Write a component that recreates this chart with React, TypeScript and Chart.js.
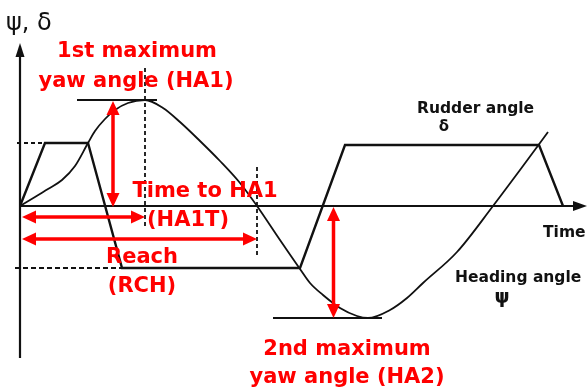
import React, { useEffect, useRef } from "react";
import { Chart, registerables } from "chart.js";

Chart.register(...registerables);

// Rudder angle δ (time units, angle units)
const rudderTime = [0, 25, 68, 102, 280, 325, 519, 543];
const rudderAngle = [0, 63, 63, -62, -62, 61, 61, 0];

// Heading angle ψ
const headingTime = [0, 15, 28, 42, 55, 68, 75, 85, 95, 108, 125, 143, 160, 180, 200, 220, 237, 260, 280, 290, 303, 320, 337, 348, 370, 387, 403, 437, 473, 500, 528];
const headingAngle = [0, 9, 17, 26, 40, 63, 75, 87, 96, 103, 106, 98, 84, 65, 45, 23, 0, -34, -63, -77, -89, -102, -110, -112, -104, -92, -77, -46, 0, 36, 74];

// Key values
const ha1Value = 106;
const ha2Value = -112;
const ha1Time = 125;
const reachTime = 237;
const rudderMax = 63;
const rudderMin = -62;

const redLabels = ["1st maximum", "yaw angle (HA1)", "Time to HA1", "(HA1T)", "Reach", "(RCH)", "2nd maximum", "yaw angle (HA2)"];
const blackLabels = ["Rudder angle", "δ", "Time", "Heading angle", "ψ"];
const axisLabel = "ψ, δ";

const seg = (x1: number, y1: number, x2: number, y2: number) => [
  { x: x1, y: y1 },
  { x: x2, y: y2 },
];

export default function App() {
  const ref = useRef<HTMLCanvasElement | null>(null);

  useEffect(() => {
    document.body.style.margin = "0";
    const canvas = ref.current;
    if (!canvas) return;

    const blackLine = (data: any[], width = 2, dash: number[] = []) => ({
      data,
      borderColor: "#111",
      borderWidth: width,
      borderDash: dash,
      pointRadius: 0,
      fill: false,
      tension: 0,
    });

    const drawPlugin = {
      id: "diagramExtras",
      afterDatasetsDraw(chart: any) {
        const ctx = chart.ctx as CanvasRenderingContext2D;
        const xs = chart.scales.x;
        const ys = chart.scales.y;
        const px = (v: number) => xs.getPixelForValue(v);
        const py = (v: number) => ys.getPixelForValue(v);

        const head = (tx: number, ty: number, fx: number, fy: number, len: number, half: number, color: string) => {
          const ang = Math.atan2(ty - fy, tx - fx);
          ctx.save();
          ctx.fillStyle = color;
          ctx.beginPath();
          ctx.moveTo(tx, ty);
          ctx.lineTo(tx - len * Math.cos(ang) + half * Math.sin(ang), ty - len * Math.sin(ang) - half * Math.cos(ang));
          ctx.lineTo(tx - len * Math.cos(ang) - half * Math.sin(ang), ty - len * Math.sin(ang) + half * Math.cos(ang));
          ctx.closePath();
          ctx.fill();
          ctx.restore();
        };

        // axis arrowheads
        head(px(0), py(163), px(0), py(100), 14, 4.5, "#111");
        head(px(567), py(0), px(500), py(0), 14, 5, "#111");

        // red double arrows
        const dbl = (x1: number, y1: number, x2: number, y2: number) => {
          const a = { x: px(x1), y: py(y1) };
          const b = { x: px(x2), y: py(y2) };
          const ang = Math.atan2(b.y - a.y, b.x - a.x);
          const len = 14;
          ctx.save();
          ctx.strokeStyle = "#ff0000";
          ctx.lineWidth = 3.5;
          ctx.beginPath();
          ctx.moveTo(a.x + Math.cos(ang) * (len - 2), a.y + Math.sin(ang) * (len - 2));
          ctx.lineTo(b.x - Math.cos(ang) * (len - 2), b.y - Math.sin(ang) * (len - 2));
          ctx.stroke();
          ctx.restore();
          head(b.x, b.y, a.x, a.y, len, 6.5, "#ff0000");
          head(a.x, a.y, b.x, b.y, len, 6.5, "#ff0000");
        };
        dbl(93, ha1Value - 1, 93, -1);
        dbl(313.5, -1, 313.5, ha2Value);
        dbl(2, -11, ha1Time, -11);
        dbl(2, -33, reachTime, -33);

        const text = (s: string, x: number, y: number, font: string, color: string, align: CanvasTextAlign) => {
          ctx.save();
          ctx.font = font;
          ctx.fillStyle = color;
          ctx.textAlign = align;
          ctx.textBaseline = "alphabetic";
          ctx.fillText(s, px(x), py(y));
          ctx.restore();
        };
        const redFont = "bold 21px 'DejaVu Sans', sans-serif";
        text(redLabels[0], 117, 149, redFont, "#ff0000", "center");
        text(redLabels[1], 116, 119, redFont, "#ff0000", "center");
        text(redLabels[2], 185, 9, redFont, "#ff0000", "center");
        text(redLabels[3], 168, -20, redFont, "#ff0000", "center");
        text(redLabels[4], 122, -57, redFont, "#ff0000", "center");
        text(redLabels[5], 122, -86, redFont, "#ff0000", "center");
        text(redLabels[6], 327, -149, redFont, "#ff0000", "center");
        text(redLabels[7], 327, -177, redFont, "#ff0000", "center");

        const blackFont = "bold 15.5px 'DejaVu Sans', sans-serif";
        text(blackLabels[0], 397, 93, blackFont, "#111", "left");
        text(blackLabels[1], 424, 75, "bold 15px 'DejaVu Sans', sans-serif", "#111", "center");
        text(blackLabels[2], 523, -31, blackFont, "#111", "left");
        text(blackLabels[3], 435, -76, blackFont, "#111", "left");
        text(blackLabels[4], 482, -97, "bold 19px 'DejaVu Sans', sans-serif", "#111", "center");
        text(axisLabel, -14, 176, "24px 'DejaVu Sans', sans-serif", "#111", "left");
      },
    };

    const chart = new Chart(canvas, {
      type: "line",
      data: {
        datasets: [
          // axes
          blackLine(seg(0, -152, 0, 150), 2.2),
          blackLine(seg(0, 0, 555, 0), 2.2),
          // reference dashed lines
          blackLine(seg(-3, rudderMax, 25, rudderMax), 1.8, [4, 3]),
          blackLine(seg(-5, rudderMin, 102, rudderMin), 1.8, [5, 3]),
          blackLine(seg(ha1Time, 138, ha1Time, -20), 1.8, [4, 3]),
          blackLine(seg(reachTime, 39, reachTime, -52), 1.8, [4, 3]),
          // HA1 / HA2 level lines
          blackLine(seg(57, ha1Value, 137, ha1Value), 2.2),
          blackLine(seg(253, ha2Value, 362, ha2Value), 2.2),
          // rudder
          blackLine(rudderTime.map((t, i) => ({ x: t, y: rudderAngle[i] })), 2.4),
          // heading
          {
            data: headingTime.map((t, i) => ({ x: t, y: headingAngle[i] })),
            borderColor: "#111",
            borderWidth: 1.8,
            pointRadius: 0,
            fill: false,
            cubicInterpolationMode: "monotone" as const,
          },
        ],
      },
      options: {
        animation: false,
        responsive: false,
        devicePixelRatio: 1,
        layout: { padding: 0 },
        plugins: { legend: { display: false }, tooltip: { enabled: false } },
        scales: {
          x: { type: "linear", min: -20, max: 567, display: false },
          y: { type: "linear", min: -183, max: 206, display: false },
        },
      },
      plugins: [drawPlugin],
    });

    return () => chart.destroy();
  }, []);

  return <canvas ref={ref} width={587} height={389} style={{ display: "block" }} />;
}
